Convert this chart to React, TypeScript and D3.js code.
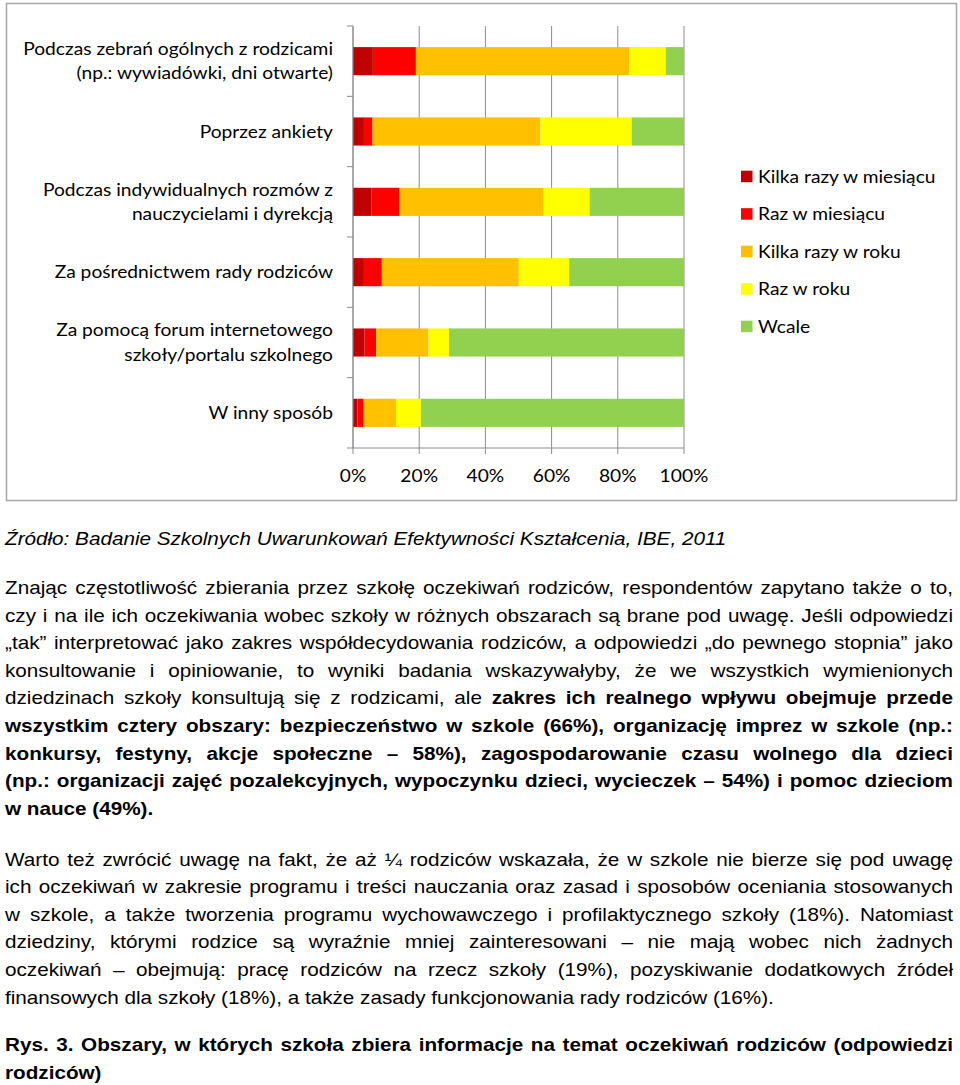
import * as d3 from "d3";
import { useLayoutEffect, useMemo, useRef, useState } from "react";

// categories (top to bottom)
const categories = [
  ["Podczas zebrań ogólnych z rodzicami", "(np.: wywiadówki, dni otwarte)"],
  ["Poprzez ankiety"],
  ["Podczas indywidualnych rozmów z", "nauczycielami i dyrekcją"],
  ["Za pośrednictwem rady rodziców"],
  ["Za pomocą forum internetowego", "szkoły/portalu szkolnego"],
  ["W inny sposób"],
];

const seriesNames = [
  "Kilka razy w miesiącu",
  "Raz w miesiącu",
  "Kilka razy w roku",
  "Raz w roku",
  "Wcale",
];
const seriesColors = ["#C00000", "#FF0000", "#FFC000", "#FFFF00", "#92D050"];

// percent values per series, one per category
const kilkaRazyWMiesiacu = [6, 3.3, 5.5, 3.3, 3.5, 1.3];
const razWMiesiacu = [13, 2.6, 8.5, 5.4, 3.5, 1.9];
const kilkaRazyWRoku = [64.5, 50.7, 43.6, 41.4, 15.8, 9.8];
const razWRoku = [11, 27.6, 13.9, 15.2, 6.2, 7.5];
const wcale = [5.5, 15.8, 28.5, 34.7, 71, 79.5];

const xTicks = [0, 20, 40, 60, 80, 100];

const sourceText =
  "Źródło: Badanie Szkolnych Uwarunkowań Efektywności Kształcenia, IBE, 2011";

type Part = { t: string; b?: boolean };
type Line = { parts: Part[]; justify: boolean };

const para1: Line[] = [
  { parts: [{ t: "Znając częstotliwość zbierania przez szkołę oczekiwań rodziców, respondentów zapytano także o to," }], justify: true },
  { parts: [{ t: "czy i na ile ich oczekiwania wobec szkoły w różnych obszarach są brane pod uwagę. Jeśli odpowiedzi" }], justify: true },
  { parts: [{ t: "„tak” interpretować jako zakres współdecydowania rodziców, a odpowiedzi „do pewnego stopnia” jako" }], justify: true },
  { parts: [{ t: "konsultowanie i opiniowanie, to wyniki badania wskazywałyby, że we wszystkich wymienionych" }], justify: true },
  {
    parts: [
      { t: "dziedzinach szkoły konsultują się z rodzicami, ale " },
      { t: "zakres ich realnego wpływu obejmuje przede", b: true },
    ],
    justify: true,
  },
  { parts: [{ t: "wszystkim cztery obszary: bezpieczeństwo w szkole (66%), organizację imprez w szkole (np.:", b: true }], justify: true },
  { parts: [{ t: "konkursy, festyny, akcje społeczne – 58%), zagospodarowanie czasu wolnego dla dzieci", b: true }], justify: true },
  { parts: [{ t: "(np.: organizacji zajęć pozalekcyjnych, wypoczynku dzieci, wycieczek – 54%) i pomoc dzieciom", b: true }], justify: true },
  { parts: [{ t: "w nauce (49%).", b: true }], justify: false },
];

const para2: Line[] = [
  { parts: [{ t: "Warto też zwrócić uwagę na fakt, że aż ¼ rodziców wskazała, że w szkole nie bierze się pod uwagę" }], justify: true },
  { parts: [{ t: "ich oczekiwań w zakresie programu i treści nauczania oraz zasad i sposobów oceniania stosowanych" }], justify: true },
  { parts: [{ t: "w szkole, a także tworzenia programu wychowawczego i profilaktycznego szkoły (18%). Natomiast" }], justify: true },
  { parts: [{ t: "dziedziny, którymi rodzice są wyraźnie mniej zainteresowani – nie mają wobec nich żadnych" }], justify: true },
  { parts: [{ t: "oczekiwań – obejmują: pracę rodziców na rzecz szkoły (19%), pozyskiwanie dodatkowych źródeł" }], justify: true },
  { parts: [{ t: "finansowych dla szkoły (18%), a także zasady funkcjonowania rady rodziców (16%)." }], justify: false },
];

const caption: Line[] = [
  { parts: [{ t: "Rys. 3. Obszary, w których szkoła zbiera informacje na temat oczekiwań rodziców (odpowiedzi", b: true }], justify: true },
  { parts: [{ t: "rodziców)", b: true }], justify: false },
];

const TEXT_FONT = "'Liberation Sans', Arial, sans-serif";
const CHART_FONT = "Lato, 'Open Sans', sans-serif";
const TEXT_SX = 1.15; // the page text is a little wider than plain Arial
const CHART_SX = 1.13;

// a line of text stretched to the full width by word spacing
function JustLine({ x, y, width, line }: { x: number; y: number; width: number; line: Line }) {
  const ref = useRef<SVGTextElement>(null);
  const [ws, setWs] = useState(0);
  const full = line.parts.map((p) => p.t).join("");
  useLayoutEffect(() => {
    if (!line.justify || !ref.current) return;
    const len = ref.current.getComputedTextLength();
    const n = (full.match(/ /g) || []).length;
    if (n) setWs((width / TEXT_SX - len) / n);
  }, [full, width, line.justify]);
  return (
    <text
      ref={ref}
      transform={`translate(${x},${y}) scale(${TEXT_SX},1)`}
      style={{ wordSpacing: `${ws}px`, whiteSpace: "pre" }}
    >
      {line.parts.map((p, i) => (
        <tspan key={i} fontWeight={p.b ? "bold" : "normal"}>
          {p.t}
        </tspan>
      ))}
    </text>
  );
}

function ChartText({ x, y, anchor, children }: { x: number; y: number; anchor?: string; children: any }) {
  return (
    <text transform={`translate(${x},${y}) scale(${CHART_SX},1)`} textAnchor={anchor}>
      {children}
    </text>
  );
}

export default function App() {
  const W = 960;
  const H = 1085;
  const left = 353;
  const right = 684;
  const top = 26;
  const bottom = 448;

  const xScale = useMemo(() => d3.scaleLinear().domain([0, 100]).range([left, right]), []);
  const yScale = useMemo(
    () =>
      d3
        .scaleBand<number>()
        .domain(d3.range(categories.length))
        .range([top, bottom])
        .paddingInner(0.6)
        .paddingOuter(0.3),
    []
  );

  const rows = categories.map((_, i) => ({
    s0: kilkaRazyWMiesiacu[i],
    s1: razWMiesiacu[i],
    s2: kilkaRazyWRoku[i],
    s3: razWRoku[i],
    s4: wcale[i],
  }));
  const stacked = d3.stack<any>().keys(["s0", "s1", "s2", "s3", "s4"])(rows);

  const step = yScale.step();
  const catBounds = d3.range(categories.length + 1).map((i) => top + i * step);

  const textW = 948;
  const textX = 5;

  return (
    <div style={{ position: "absolute", left: 0, top: 0, width: W, height: H, background: "#fff" }}>
      <svg width={W} height={H} style={{ display: "block" }}>
        <rect x={6.5} y={3.5} width={950} height={497} fill="#fff" stroke="#a6a6a6" strokeWidth={1.5} />

        {/* gridlines */}
        {xTicks.map((t) => (
          <line key={t} x1={xScale(t)} x2={xScale(t)} y1={top} y2={bottom} stroke="#8c8c8c" strokeWidth={1} />
        ))}

        {/* bars */}
        {stacked.map((layer, si) => (
          <g key={si} fill={seriesColors[si]}>
            {layer.map((d, i) => (
              <rect
                key={i}
                x={xScale(d[0])}
                y={yScale(i)}
                width={xScale(d[1]) - xScale(d[0])}
                height={yScale.bandwidth()}
              />
            ))}
          </g>
        ))}

        {/* axes */}
        <line x1={left} x2={left} y1={top} y2={bottom} stroke="#8c8c8c" />
        {catBounds.map((y, i) => (
          <line key={i} x1={left - 6} x2={left} y1={y} y2={y} stroke="#8c8c8c" />
        ))}
        <line x1={left} x2={right} y1={bottom} y2={bottom} stroke="#8c8c8c" />
        {xTicks.map((t) => (
          <line key={t} x1={xScale(t)} x2={xScale(t)} y1={bottom} y2={bottom + 6} stroke="#8c8c8c" />
        ))}
        <g fontFamily={CHART_FONT} fontSize={17} fill="#000">
          {xTicks.map((t) => (
            <ChartText key={t} x={xScale(t)} y={482} anchor="middle">
              {t}%
            </ChartText>
          ))}
          {categories.map((lines, i) => {
            const cy = (yScale(i) as number) + yScale.bandwidth() / 2;
            const lh = 24.5;
            const y0 = cy - ((lines.length - 1) * lh) / 2 + 6;
            return lines.map((l, j) => (
              <ChartText key={i + "-" + j} x={333} y={y0 + j * lh} anchor="end">
                {l}
              </ChartText>
            ));
          })}
          {/* legend */}
          {seriesNames.map((n, i) => (
            <g key={n} transform={`translate(741, ${176.7 + i * 37.5})`}>
              <rect x={0} y={-6} width={11.5} height={11.5} fill={seriesColors[i]} />
              <ChartText x={17} y={6}>
                {n}
              </ChartText>
            </g>
          ))}
        </g>

        <g fontFamily={TEXT_FONT} fontSize={18} fill="#000">
          <text transform={`translate(${textX},545) scale(${TEXT_SX},1)`} fontStyle="italic">
            {sourceText}
          </text>
          {para1.map((l, i) => (
            <JustLine key={"a" + i} x={textX} y={594 + i * 27.6} width={textW} line={l} />
          ))}
          {para2.map((l, i) => (
            <JustLine key={"b" + i} x={textX} y={865.5 + i * 27.6} width={textW} line={l} />
          ))}
          {caption.map((l, i) => (
            <JustLine key={"c" + i} x={textX} y={1051 + i * 27.6} width={textW} line={l} />
          ))}
        </g>
      </svg>
    </div>
  );
}
